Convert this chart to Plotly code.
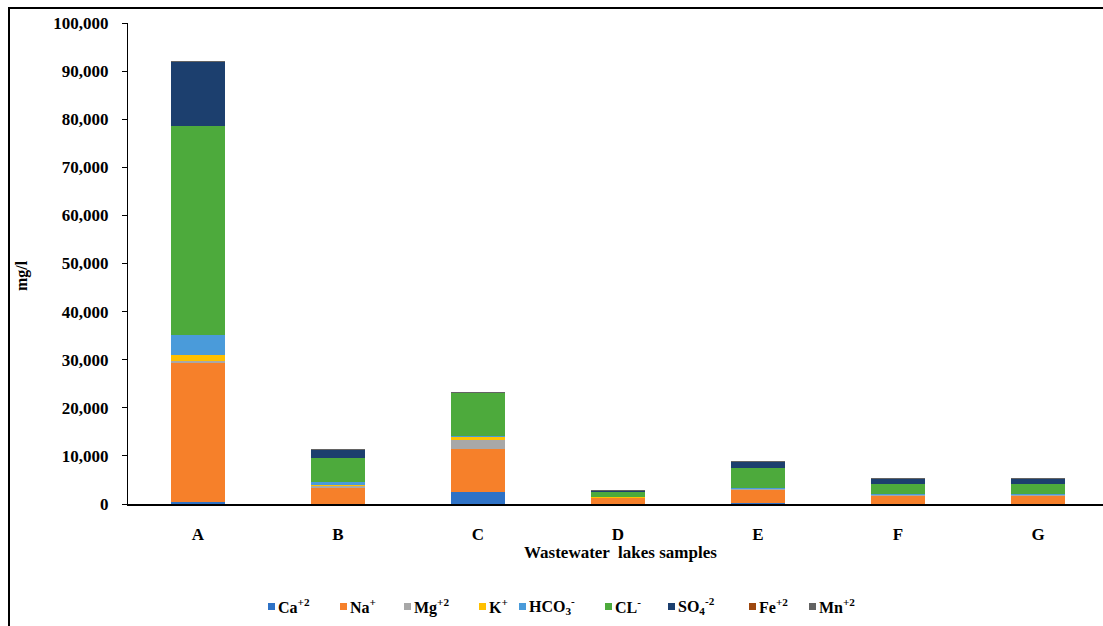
import plotly.graph_objects as go

# Sampling sites (wastewater lakes)
samples = ["A", "B", "C", "D", "E", "F", "G"]

# Ion concentrations, mg/l, per sample
ca = [400, 100, 2500, 50, 300, 50, 50]
na = [29000, 3400, 9000, 1300, 2750, 1800, 1750]
mg = [300, 300, 1900, 100, 100, 150, 150]
k = [1300, 150, 700, 50, 50, 20, 30]
hco3 = [4100, 550, 50, 50, 100, 20, 30]
cl = [43500, 5100, 9050, 1000, 4100, 2050, 2100]
so4 = [13300, 1700, 50, 250, 1400, 1250, 1250]
fe = [20, 10, 10, 5, 10, 5, 5]
mn = [10, 5, 5, 5, 5, 5, 5]

series_names = ["Ca<sup>+2</sup>", "Na<sup>+</sup>", "Mg<sup>+2</sup>", "K<sup>+</sup>",
                "HCO<sub>3</sub><sup>-</sup>", "CL<sup>-</sup>", "SO<sub>4</sub><sup>-2</sup>",
                "Fe<sup>+2</sup>", "Mn<sup>+2</sup>"]
series_values = [ca, na, mg, k, hco3, cl, so4, fe, mn]
series_colors = ["#2E72C6", "#F6802A", "#A8A8A8", "#FFC000", "#4A9BDA",
                 "#4DAA3C", "#1C3F6E", "#9E480E", "#636363"]

y_ticks = list(range(0, 100001, 10000))
y_tick_text = [f"{v:,}" for v in y_ticks]

FONT = "Liberation Serif"

fig = go.Figure()
for name, vals, col in zip(series_names, series_values, series_colors):
    fig.add_trace(go.Bar(
        x=samples, y=vals, name=name, showlegend=False,
        marker=dict(color=col, line=dict(width=0)),
    ))

W, H = 1103, 626
ML, MR, MT, MB = 128, 0, 23, 122
pw = W - ML - MR
ph = H - MT - MB


def px_x(p):
    return (p - ML) / pw


def px_y(p):
    return (H - MB - p) / ph


fig.update_layout(
    width=W, height=H,
    barmode="stack",
    bargap=0.61,
    paper_bgcolor="white",
    plot_bgcolor="white",
    margin=dict(l=ML, r=MR, t=MT, b=MB, pad=0),
    font=dict(family=FONT, size=16, color="black"),
    xaxis=dict(
        type="category",
        range=[-0.5, 6.5 - 5 / 140],
        showline=True, linecolor="black", linewidth=1.5,
        ticks="", showgrid=False, ticklabelstandoff=14,
        tickfont=dict(family=FONT, size=17, color="black", weight="bold"),
    ),
    yaxis=dict(
        range=[0, 100000],
        tickvals=y_ticks, ticktext=y_tick_text,
        showline=True, linecolor="black", linewidth=1.2,
        ticks="outside", ticklen=5, tickcolor="black", tickwidth=1,
        showgrid=False, zeroline=False, ticklabelstandoff=10,
        tickfont=dict(family=FONT, size=17, color="black", weight="bold"),
    ),
    showlegend=False,
)

# Axis titles
fig.add_annotation(
    text="<b>mg/l</b>", x=px_x(22), y=px_y(276), xref="paper", yref="paper",
    xanchor="center", yanchor="middle",
    textangle=-90, showarrow=False, font=dict(family=FONT, size=16, color="black"),
)
fig.add_annotation(
    text="<b>Wastewater  lakes samples</b>", x=px_x(620), y=px_y(552),
    xref="paper", yref="paper", xanchor="center", yanchor="middle",
    showarrow=False, font=dict(family=FONT, size=17, color="black"),
)

# Legend row: small colour square followed by the ion label
legend_x = [268, 340, 404, 479, 519, 605, 668, 749, 809]
legend_y = 606
for name, col, lx in zip(series_names, series_colors, legend_x):
    fig.add_shape(
        type="rect", xref="paper", yref="paper",
        x0=px_x(lx), x1=px_x(lx + 7), y0=px_y(legend_y + 4), y1=px_y(legend_y - 3),
        line=dict(width=0), fillcolor=col,
    )
    fig.add_annotation(
        text=f"<b>{name}</b>", x=px_x(lx + 8), y=px_y(legend_y),
        xref="paper", yref="paper", xanchor="left", yanchor="middle",
        showarrow=False, font=dict(family=FONT, size=16, color="black"),
    )

# Outer frame around the chart
fig.add_shape(
    type="rect", xref="paper", yref="paper",
    x0=px_x(9), y0=px_y(660), x1=px_x(1120), y1=px_y(8),
    line=dict(color="black", width=2), fillcolor="rgba(0,0,0,0)",
)

fig.write_html("out.html")
